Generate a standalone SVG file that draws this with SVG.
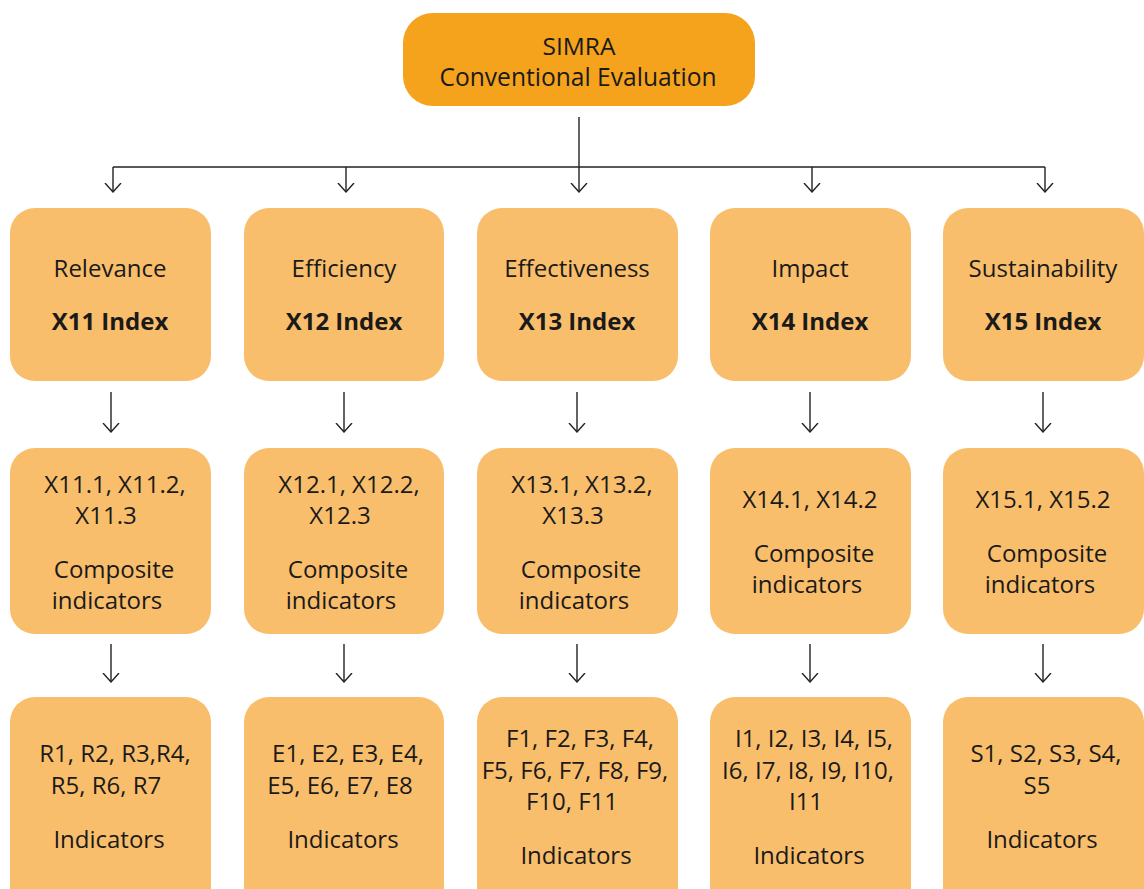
<svg xmlns="http://www.w3.org/2000/svg" width="1144" height="889" viewBox="0 0 1144 889">
<defs>
<marker id="ah" viewBox="0 0 10 18" refX="9" refY="9" markerWidth="10" markerHeight="18" markerUnits="userSpaceOnUse" orient="auto">
<path d="M0,1 L9,9 L0,17" fill="none" stroke="#222" stroke-width="1.4"/>
</marker>
<style>
.top{fill:#F5A31D}
.box{fill:#F9BE6B}
text{font-family:"Open Sans","Noto Sans",sans-serif;font-size:24px;fill:#1a1a1a;text-anchor:middle}
.b{font-weight:bold}
.ln{stroke:#222;stroke-width:1.4;fill:none}
.ar{stroke:#222;stroke-width:1.4;fill:none;marker-end:url(#ah)}
</style>
</defs>
<rect width="1144" height="889" fill="#fff"/>
<g id="connectors">
<line class="ln" x1="579" y1="117" x2="579" y2="167"/>
<line class="ln" x1="113" y1="167" x2="1045" y2="167"/>
<line class="ar" x1="113" y1="167" x2="113" y2="192"/>
<line class="ar" x1="346" y1="167" x2="346" y2="192"/>
<line class="ar" x1="579" y1="167" x2="579" y2="192"/>
<line class="ar" x1="812" y1="167" x2="812" y2="192"/>
<line class="ar" x1="1045" y1="167" x2="1045" y2="192"/>
<line class="ar" x1="111" y1="392" x2="111" y2="432"/>
<line class="ar" x1="344" y1="392" x2="344" y2="432"/>
<line class="ar" x1="577" y1="392" x2="577" y2="432"/>
<line class="ar" x1="810" y1="392" x2="810" y2="432"/>
<line class="ar" x1="1043" y1="392" x2="1043" y2="432"/>
<line class="ar" x1="111" y1="644" x2="111" y2="682"/>
<line class="ar" x1="344" y1="644" x2="344" y2="682"/>
<line class="ar" x1="577" y1="644" x2="577" y2="682"/>
<line class="ar" x1="810" y1="644" x2="810" y2="682"/>
<line class="ar" x1="1043" y1="644" x2="1043" y2="682"/>
</g>
<g id="simra">
<rect class="top" x="403" y="13" width="352" height="93" rx="30"/>
<text x="579" y="55" style="font-size:24.5px">SIMRA</text>
<text x="578" y="86" style="font-size:24.6px">Conventional Evaluation</text>
</g>
<g id="relevance">
<rect class="box" x="10" y="208" width="201" height="173" rx="25"/>
<text x="110" y="277">Relevance</text>
<text class="b" x="110" y="330">X11 Index</text>
</g>
<g id="efficiency">
<rect class="box" x="244" y="208" width="200" height="173" rx="25"/>
<text x="344" y="277">Efficiency</text>
<text class="b" x="344" y="330">X12 Index</text>
</g>
<g id="effectiveness">
<rect class="box" x="477" y="208" width="201" height="173" rx="25"/>
<text x="577" y="277">Effectiveness</text>
<text class="b" x="577" y="330">X13 Index</text>
</g>
<g id="impact">
<rect class="box" x="710" y="208" width="201" height="173" rx="25"/>
<text x="810" y="277">Impact</text>
<text class="b" x="810" y="330">X14 Index</text>
</g>
<g id="sustainability">
<rect class="box" x="943" y="208" width="201" height="173" rx="25"/>
<text x="1043" y="277">Sustainability</text>
<text class="b" x="1043" y="330">X15 Index</text>
</g>
<g id="x11-composite">
<rect class="box" x="10" y="448" width="201" height="186" rx="25"/>
<text x="115" y="493">X11.1, X11.2,</text>
<text x="106" y="524">X11.3</text>
<text x="114" y="578">Composite</text>
<text x="107" y="609">indicators</text>
</g>
<g id="x12-composite">
<rect class="box" x="244" y="448" width="200" height="186" rx="25"/>
<text x="349" y="493">X12.1, X12.2,</text>
<text x="340" y="524">X12.3</text>
<text x="348" y="578">Composite</text>
<text x="341" y="609">indicators</text>
</g>
<g id="x13-composite">
<rect class="box" x="477" y="448" width="201" height="186" rx="25"/>
<text x="582" y="493">X13.1, X13.2,</text>
<text x="573" y="524">X13.3</text>
<text x="581" y="578">Composite</text>
<text x="574" y="609">indicators</text>
</g>
<g id="x14-composite">
<rect class="box" x="710" y="448" width="201" height="186" rx="25"/>
<text x="810" y="508">X14.1, X14.2</text>
<text x="814" y="562">Composite</text>
<text x="807" y="593">indicators</text>
</g>
<g id="x15-composite">
<rect class="box" x="943" y="448" width="201" height="186" rx="25"/>
<text x="1043" y="508">X15.1, X15.2</text>
<text x="1047" y="562">Composite</text>
<text x="1040" y="593">indicators</text>
</g>
<g id="r-indicators">
<rect class="box" x="10" y="697" width="201" height="220" rx="25"/>
<text x="115" y="762">R1, R2, R3,R4,</text>
<text x="106" y="794">R5, R6, R7</text>
<text x="109" y="848">Indicators</text>
</g>
<g id="e-indicators">
<rect class="box" x="244" y="697" width="200" height="220" rx="25"/>
<text x="348" y="762">E1, E2, E3, E4,</text>
<text x="340" y="794">E5, E6, E7, E8</text>
<text x="343" y="848">Indicators</text>
</g>
<g id="f-indicators">
<rect class="box" x="477" y="697" width="201" height="220" rx="25"/>
<text x="580" y="747">F1, F2, F3, F4,</text>
<text x="575" y="779">F5, F6, F7, F8, F9,</text>
<text x="572" y="810">F10, F11</text>
<text x="576" y="864">Indicators</text>
</g>
<g id="i-indicators">
<rect class="box" x="710" y="697" width="201" height="220" rx="25"/>
<text x="814" y="747">I1, I2, I3, I4, I5,</text>
<text x="808" y="779">I6, I7, I8, I9, I10,</text>
<text x="806" y="810">I11</text>
<text x="809" y="864">Indicators</text>
</g>
<g id="s-indicators">
<rect class="box" x="943" y="697" width="201" height="220" rx="25"/>
<text x="1046" y="762">S1, S2, S3, S4,</text>
<text x="1037" y="794">S5</text>
<text x="1042" y="848">Indicators</text>
</g>
</svg>
